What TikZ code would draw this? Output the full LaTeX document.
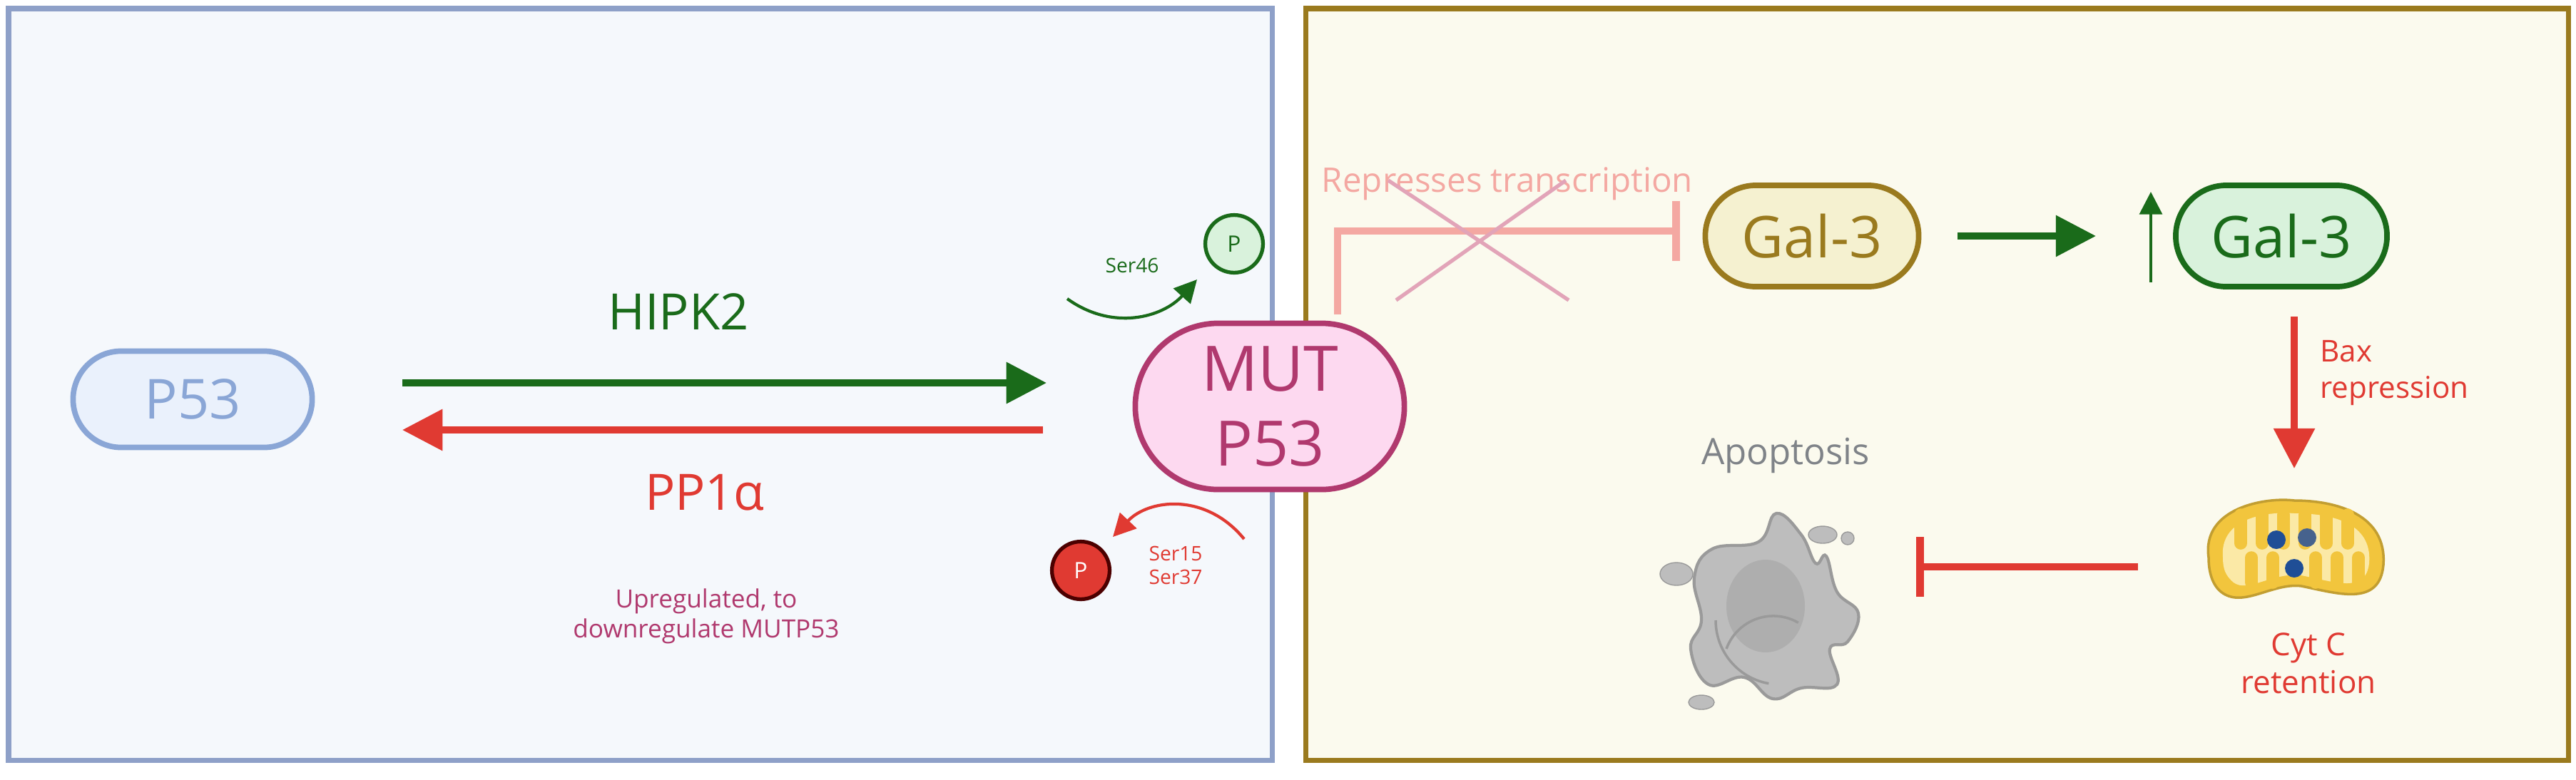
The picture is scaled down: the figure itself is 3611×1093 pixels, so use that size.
\documentclass[tikz,border=0pt]{standalone}
\usepackage{fontspec}
\setmainfont{Open Sans}
\usetikzlibrary{arrows.meta,shapes.misc}
\definecolor{lbfill}{HTML}{F5F8FC}\definecolor{lbdraw}{HTML}{8EA0C8}
\definecolor{rbfill}{HTML}{FBFAEE}\definecolor{rbdraw}{HTML}{9A7A1E}
\definecolor{pblue}{HTML}{8AA6D6}\definecolor{pbfill}{HTML}{EAF1FC}
\definecolor{dgreen}{HTML}{1A6B1A}\definecolor{lgreen}{HTML}{D9F2DC}
\definecolor{rred}{HTML}{E03A32}\definecolor{mpink}{HTML}{B0396E}\definecolor{mfill}{HTML}{FDD9F0}
\definecolor{gold}{HTML}{9A7A1E}\definecolor{gfill}{HTML}{F5F1D0}
\definecolor{salmon}{HTML}{F4A8A2}\definecolor{xpink}{HTML}{E2A4B8}
\definecolor{gtext}{HTML}{7F8388}\definecolor{cellg}{HTML}{BDBDBD}\definecolor{cellgd}{HTML}{9A9A9A}
\definecolor{mito}{HTML}{F2C53D}\definecolor{mitol}{HTML}{FBE9A6}\definecolor{mitob}{HTML}{1F4E96}
\newcommand{\fs}[1]{\fontsize{#1pt}{\dimexpr #1pt*6/5\relax}\selectfont}
\tikzset{
  pill/.style={rounded rectangle, line width=2.2pt, inner sep=0pt},
  arr/.style={line width=2.6pt, -{Triangle[length=16pt,width=16pt]}},
  tarr/.style={line width=1.2pt, -{Triangle[length=9pt,width=9pt]}},
  pc/.style={circle, line width=1.5pt, minimum size=23pt, inner sep=0pt, font=\fs{9}},
}
\begin{document}
\begin{tikzpicture}[x=0.01cm,y=-0.01cm]
\useasboundingbox (0,0) rectangle (3611,1093);
\fill[white] (0,0) rectangle (3611,1093);
\draw[lbdraw, fill=lbfill, line width=2pt] (12,12) rectangle (1783,1066);
\draw[rbdraw, fill=rbfill, line width=2pt] (1830,12) rectangle (3600,1066);
% nodes
\node[pill, draw=pblue, fill=pbfill, minimum width=3.35cm, minimum height=1.35cm] (p53) at (270,560) {};
\node[text=pblue, font=\fs{22}] at (p53) {P53};
\node[pill, draw=mpink, fill=mfill, minimum width=3.77cm, minimum height=2.33cm] (mut) at (1780,570) {};
\node[text=mpink, font=\fs{25}, align=center] at (mut) {MUT\\P53};
\node[pill, draw=gold, fill=gfill, minimum width=2.99cm, minimum height=1.42cm] (g1) at (2540,331) {};
\node[text=gold, font=\fs{23}] at (g1) {Gal-3};
\node[pill, draw=dgreen, fill=lgreen, minimum width=2.96cm, minimum height=1.42cm] (g2) at (3198,331) {};
\node[text=dgreen, font=\fs{23}] at (g2) {Gal-3};
% main arrows
\coordinate (h1) at (564,537); \coordinate (h2) at (1467,537);
\coordinate (r1) at (1462,603); \coordinate (r2) at (564,603);
\draw[arr, dgreen] (h1) -- (h2);
\draw[arr, rred] (r1) -- (r2);
\node[text=dgreen, font=\fs{20}] (hipk) at (951,437) {HIPK2};
\node[text=rred, font=\fs{20}] (pp1) at (988,691) {PP1α};
\node[text=mpink, font=\fs{10}, align=center] (up) at (990,864) {Upregulated, to\\downregulate MUTP53};
% phosphorylation
\node[pc, draw=dgreen, fill=lgreen, text=dgreen] (pg) at (1730,342) {P};
\node[text=dgreen, font=\fs{8}] (s46) at (1587,372) {Ser46};
\coordinate (a1) at (1496,419); \coordinate (a2) at (1678,392);
\draw[tarr, dgreen] (a1) .. controls (1560,465) and (1630,445) .. (a2);
\node[pc, draw=black!70!red, fill=rred, text=white] (pr) at (1515,800) {P};
\node[text=rred, font=\fs{8}, align=center] (s15) at (1648,793) {Ser15\\Ser37};
\coordinate (b1) at (1744,756); \coordinate (b2) at (1560,753);
\draw[tarr, rred] (b1) .. controls (1690,690) and (1610,700) .. (b2);
% repression
\coordinate (rp1) at (1875,441); \coordinate (rp2) at (1875,324);
\draw[salmon, line width=3pt, -{Bar[width=24pt]}] (rp1) -- (rp2) -- (2355,324);
\node[text=salmon, font=\fs{13.5}] (rt) at (2113,258) {Represses transcription};
\draw[xpink, line width=1.5pt] (1946,253) -- (2199,421) (2195,253) -- (1957,421);
% right side
\draw[arr, dgreen] (2744,331) -- (2938,331);
\draw[tarr, dgreen] (3015,396) -- (3015,269);
\draw[arr, rred] (3216,444) -- (3216,657);
\node[text=rred, font=\fs{12}, anchor=west, align=left] (bax) at (3240,523) {Bax\\repression};
\node[text=gtext, font=\fs{14.5}] (apo) at (2503,639) {Apoptosis};
\draw[rred, line width=3pt, -{Bar[width=24pt]}] (2997,795) -- (2686,795);
\node[text=rred, font=\fs{12.5}, align=center] (cyt) at (3236,930) {Cyt C\\retention};
% cell
\begin{scope}[shift={(2495,850)}]
\draw[cellgd, fill=cellg, line width=1.2pt] plot[smooth cycle, tension=0.7] coordinates {(-120,-40) (-95,-80) (-30,-90) (-5,-130) (30,-100) (50,-60) (65,-70) (80,-20) (110,10) (95,50) (70,60) (80,110) (30,115) (-10,130) (-50,100) (-100,110) (-125,60) (-110,20)};
\fill[cellgd!80] (-20,0) circle[x radius=55, y radius=65];
\draw[cellgd, line width=1pt] (-90,20) arc[start angle=180, end angle=100, radius=90];
\draw[cellgd, line width=1pt] (-75,60) arc[start angle=200, end angle=300, radius=70];
\draw[cellgd, fill=cellg] (-145,-45) ellipse (23 and 16);
\draw[cellgd, fill=cellg] (60,-100) ellipse (20 and 12);
\draw[cellgd, fill=cellg] (95,-95) circle (9);
\draw[cellgd, fill=cellg] (-110,135) ellipse (18 and 10);
\end{scope}
% mitochondrion
\begin{scope}[shift={(3216,782)}]
\draw[mito!80!black, fill=mito, line width=1pt] (-120,0) .. controls (-130,-70) and (-40,-85) .. (0,-80) .. controls (60,-80) and (130,-60) .. (125,10) .. controls (120,70) and (60,50) .. (10,40) .. controls (-30,35) and (-70,70) .. (-100,50) .. controls (-115,40) and (-120,20) .. (-120,0) -- cycle;
\fill[mitol] (-100,0) .. controls (-105,-55) and (-40,-65) .. (0,-62) .. controls (50,-62) and (110,-50) .. (105,8) .. controls (100,50) and (60,35) .. (10,25) .. controls (-30,20) and (-65,50) .. (-85,35) .. controls (-97,25) and (-100,15) .. (-100,0) -- cycle;
\foreach \x in {-75,-45,-15,15,45,75} \draw[mito, line width=5pt, line cap=round] (\x,-60) -- (\x,-20);
\foreach \x in {-60,-30,30,60,90} \draw[mito, line width=5pt, line cap=round] (\x,35) -- (\x,0);
\fill[mitob] (-25,-25) circle (13);
\fill[mitob!60!gray] (18,-28) circle (13);
\fill[mitob] (0,15) circle (13);
\end{scope}
\end{tikzpicture}
\end{document}
